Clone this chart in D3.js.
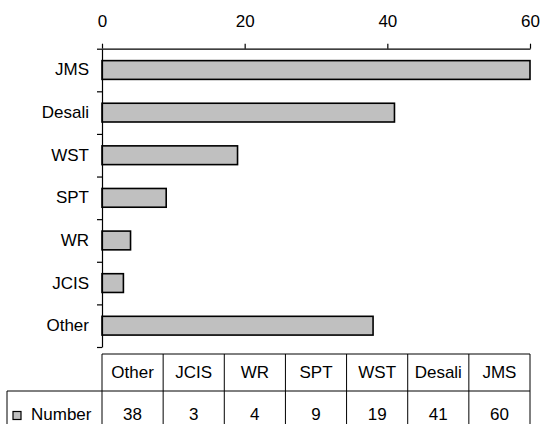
<!DOCTYPE html>
<html>
<head>
<meta charset="utf-8">
<script src="https://cdn.jsdelivr.net/npm/d3@7"></script>
<style>
  html, body { margin: 0; padding: 0; background: #fff; }
  svg { display: block; font-family: "Liberation Sans", Arial, sans-serif; }
</style>
</head>
<body>
<svg id="chart" width="540" height="424"></svg>
<script>
// Journal counts, in data-table order (drawn bottom to top on the bar chart)
const categories = ["Other", "JCIS", "WR", "SPT", "WST", "Desali", "JMS"];
const values = [38, 3, 4, 9, 19, 41, 60];
const xTicks = [0, 20, 40, 60];
const seriesName = "Number";

const svg = d3.select("#chart");
const fontSize = 17;
const barFill = "#c0c0c0";

// Plot area
const plotLeft = 102, plotRight = 530, plotTop = 48.7, plotBottom = 347;

const x = d3.scaleLinear().domain([0, 60]).range([plotLeft, plotRight]);

// First category sits at the bottom
const y = d3.scaleBand()
  .domain(categories)
  .range([plotBottom, plotTop])
  .paddingInner(0.56)
  .paddingOuter(0.28);

// Category boundaries for the left-axis tick marks
const yEdge = d3.scaleLinear().domain([0, categories.length]).range([plotBottom, plotTop]);

// Bars
svg.append("g")
  .selectAll("rect")
  .data(categories)
  .join("rect")
  .attr("x", x(0))
  .attr("y", d => y(d))
  .attr("width", (d, i) => x(values[i]) - x(0))
  .attr("height", y.bandwidth())
  .attr("fill", barFill)
  .attr("stroke", "#000")
  .attr("stroke-width", 1.6);

// Top value axis
svg.append("g")
  .attr("transform", `translate(0,${plotTop})`)
  .call(d3.axisTop(x).tickValues(xTicks).tickSize(5).tickSizeOuter(0).tickPadding(17));

// Left axis: boundary ticks
svg.append("g")
  .attr("transform", `translate(${plotLeft},0)`)
  .call(d3.axisLeft(yEdge).tickValues(d3.range(categories.length + 1)).tickFormat("").tickSize(5).tickSizeOuter(0));

// Left axis: category labels
const yLabelAxis = svg.append("g")
  .attr("transform", `translate(${plotLeft},0)`)
  .call(d3.axisLeft(y).tickSize(0).tickPadding(13));
yLabelAxis.select(".domain").remove();

svg.selectAll(".tick text")
  .attr("font-size", fontSize)
  .attr("font-family", "'Liberation Sans', Arial, sans-serif")
  .attr("fill", "#000");
svg.selectAll(".domain, .tick line").attr("stroke", "#000").attr("stroke-width", 1.2);

// Data table under the chart
const tableTop = 354, rowSplit = 391, tableBottom = 430, legendLeft = 7;
const headerBaseline = 378, valueBaseline = 420;
const col = d3.scaleBand().domain(categories).range([plotLeft, plotRight]);

const table = svg.append("g").attr("stroke", "#000").attr("stroke-width", 1);
// Horizontal rules
table.append("line").attr("x1", plotLeft).attr("x2", plotRight).attr("y1", tableTop).attr("y2", tableTop);
table.append("line").attr("x1", legendLeft).attr("x2", plotRight).attr("y1", rowSplit).attr("y2", rowSplit);
// Vertical rules
table.selectAll("line.col")
  .data(categories.concat(["__end"]))
  .join("line")
  .attr("class", "col")
  .attr("x1", (d, i) => i < categories.length ? col(d) : plotRight)
  .attr("x2", (d, i) => i < categories.length ? col(d) : plotRight)
  .attr("y1", tableTop)
  .attr("y2", tableBottom);
table.append("line").attr("x1", legendLeft).attr("x2", legendLeft).attr("y1", rowSplit).attr("y2", tableBottom);

// Header row: category names
svg.append("g")
  .selectAll("text")
  .data(categories)
  .join("text")
  .attr("x", d => col(d) + col.bandwidth() / 2)
  .attr("y", headerBaseline)
  .attr("text-anchor", "middle")
  .attr("font-size", fontSize)
  .attr("fill", "#000")
  .text(d => d);

// Value row
svg.append("g")
  .selectAll("text")
  .data(values)
  .join("text")
  .attr("x", (d, i) => col(categories[i]) + col.bandwidth() / 2)
  .attr("y", valueBaseline)
  .attr("text-anchor", "middle")
  .attr("font-size", fontSize)
  .attr("fill", "#000")
  .text(d => d);

// Legend key in the table's first column
svg.append("rect")
  .attr("x", 13).attr("y", valueBaseline - 8.5)
  .attr("width", 8).attr("height", 8)
  .attr("fill", barFill)
  .attr("stroke", "#000")
  .attr("stroke-width", 1.2);
svg.append("text")
  .attr("x", 31).attr("y", valueBaseline)
  .attr("font-size", fontSize)
  .attr("fill", "#000")
  .text(seriesName);
</script>
</body>
</html>
